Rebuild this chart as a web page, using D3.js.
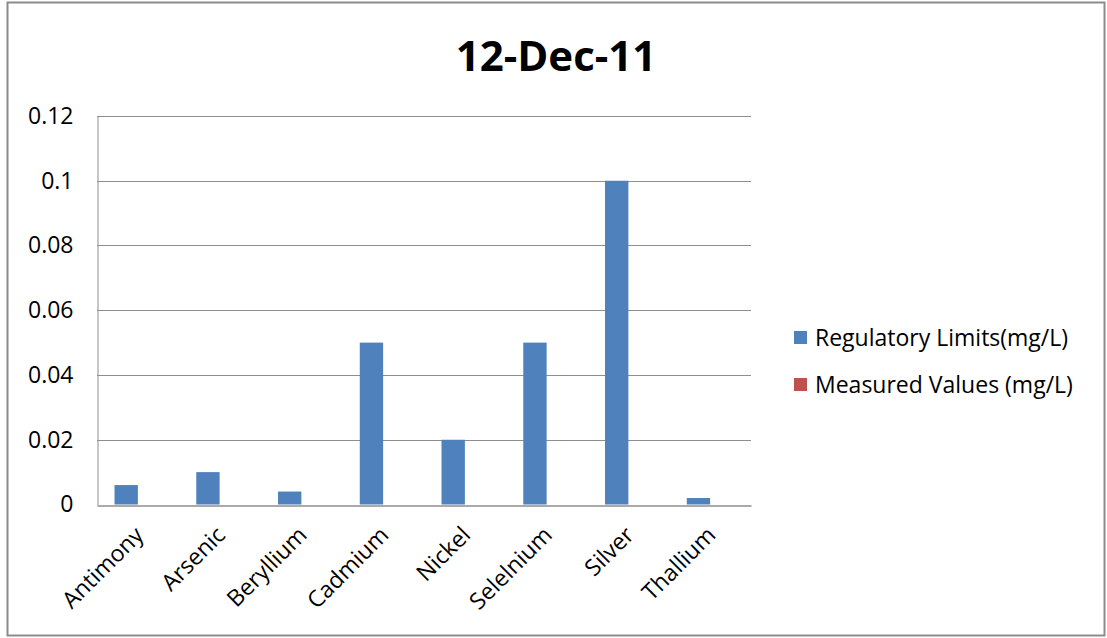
<!DOCTYPE html>
<html>
<head>
<meta charset="utf-8">
<script src="https://cdn.jsdelivr.net/npm/d3@7"></script>
<style>
  html, body { margin: 0; padding: 0; background: #fff; }
  svg { display: block; }
</style>
</head>
<body>
<svg id="chart" width="1107" height="638"></svg>
<script>
// Metal concentrations, 12-Dec-11
const categories = ["Antimony", "Arsenic", "Beryllium", "Cadmium", "Nickel", "Selelnium", "Silver", "Thallium"];
const regulatoryLimits = [0.006, 0.01, 0.004, 0.05, 0.02, 0.05, 0.1, 0.002];
const measuredValues = [null, null, null, null, null, null, null, null];
const seriesNames = ["Regulatory Limits(mg/L)", "Measured Values (mg/L)"];
const seriesColors = ["#4f81bd", "#c0504d"];
const yTicks = [0, 0.02, 0.04, 0.06, 0.08, 0.1, 0.12];
const yTickLabels = ["0", "0.02", "0.04", "0.06", "0.08", "0.1", "0.12"];
const title = "12-Dec-11";

const font = "'Open Sans', 'Noto Sans', sans-serif";
const labelSize = 23;
const svg = d3.select("#chart");

// chart frame
svg.append("rect")
  .attr("x", 7.5).attr("y", 2.5)
  .attr("width", 1097).attr("height", 633)
  .attr("fill", "#fff")
  .attr("stroke", "#8c8c8c").attr("stroke-width", 2);

const plot = { left: 97, right: 751, top: 116, bottom: 504.5 };

const x = d3.scaleBand()
  .domain(categories)
  .range([plot.left, plot.right])
  .paddingInner(0).paddingOuter(0);

const y = d3.scaleLinear()
  .domain([0, 0.12])
  .range([plot.bottom, plot.top]);

// two series per category, 150% gap between groups
const slot = x.bandwidth() / (2 + 1.5);
const xs = d3.scaleBand()
  .domain([0, 1])
  .range([slot * 0.75, slot * 2.75])
  .padding(0);

// gridlines
svg.append("g")
  .selectAll("line")
  .data(yTicks.filter(d => d > 0))
  .join("line")
  .attr("x1", plot.left).attr("x2", plot.right)
  .attr("y1", d => Math.round(y(d)) + 0.5).attr("y2", d => Math.round(y(d)) + 0.5)
  .attr("stroke", "#8e8e8e").attr("stroke-width", 1);

// y axis
const yAxis = d3.axisLeft(y)
  .tickValues(yTicks)
  .tickFormat((d, i) => yTickLabels[i])
  .tickSize(0).tickPadding(24);
const gy = svg.append("g")
  .attr("transform", `translate(${plot.left + 0.5},0)`)
  .call(yAxis);
gy.select(".domain").attr("stroke", "#8e8e8e");
gy.selectAll("text")
  .attr("font-family", font).attr("font-size", labelSize).attr("fill", "#000");

// bars
const series = [regulatoryLimits, measuredValues];
series.forEach((vals, si) => {
  svg.append("g")
    .selectAll("rect")
    .data(categories.map((c, i) => ({ c, v: vals[i] })).filter(d => d.v != null))
    .join("rect")
    .attr("x", d => x(d.c) + xs(si))
    .attr("width", xs.bandwidth())
    .attr("y", d => y(d.v))
    .attr("height", d => y(0) - y(d.v))
    .attr("fill", seriesColors[si]);
});

// x axis
const xAxis = d3.axisBottom(x).tickSize(0).tickPadding(0);
const gx = svg.append("g")
  .attr("transform", `translate(0,${Math.round(plot.bottom) + 0.5})`)
  .call(xAxis);
gx.select(".domain").attr("stroke", "#8e8e8e").attr("stroke-width", 1.5);
gx.selectAll("text")
  .attr("font-family", font).attr("font-size", labelSize).attr("fill", "#000")
  .attr("text-anchor", "end")
  .attr("dy", 0)
  .attr("transform", "translate(7,31) rotate(-45)");

// title
svg.append("text")
  .attr("x", 556).attr("y", 71)
  .attr("text-anchor", "middle")
  .attr("font-family", font).attr("font-weight", "bold").attr("font-size", 42)
  .text(title);

// legend
const legend = svg.append("g").attr("transform", "translate(794,338)");
seriesNames.forEach((name, i) => {
  const g = legend.append("g").attr("transform", `translate(0,${i * 47})`);
  g.append("rect").attr("x", 0).attr("y", -7).attr("width", 13).attr("height", 13)
    .attr("fill", seriesColors[i]);
  g.append("text").attr("x", 21).attr("y", 0).attr("dy", "0.35em")
    .attr("font-family", font).attr("font-size", labelSize).attr("fill", "#000")
    .text(name);
});
</script>
</body>
</html>
